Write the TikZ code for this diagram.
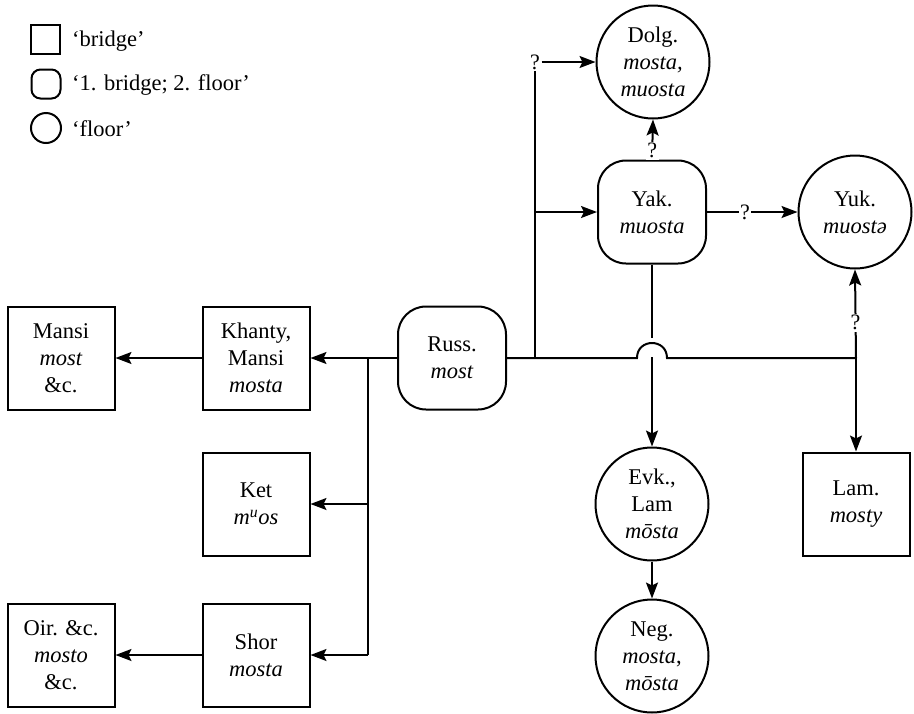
\documentclass[tikz,border=0pt]{standalone}
\usepackage{fontspec}
\setmainfont{Liberation Serif}
\usetikzlibrary{arrows.meta}
\begin{document}
\begin{tikzpicture}[x=1pt,y=-1pt,
  every node/.style={font=\fontsize{22.5}{27}\selectfont, align=center, inner sep=0pt},
  box/.style={draw, line width=2pt, minimum width=107pt, minimum height=103pt},
  rbox/.style={draw, line width=2pt, rounded corners=28pt, minimum width=108pt, minimum height=103pt},
  circ/.style={draw, circle, line width=2pt, minimum size=113pt},
  ln/.style={line width=2pt},
  arr/.style={ln, -{Stealth[length=16pt,width=12pt,inset=3pt]}},
  q/.style={fill=white, inner sep=1.5pt, font=\fontsize{22}{24}\selectfont},
  leg/.style={draw, line width=2pt, minimum size=29pt},
  legtext/.style={anchor=west},
]
\useasboundingbox (0,0) rectangle (914,713);

% legend
\node[leg] (l1) at (45,39) {};
\node[leg, rounded corners=9pt] (l2) at (46,84) {};
\node[leg, circle, minimum size=30pt] (l3) at (46,128) {};
\node[legtext] (t1) at (72,41) {‘bridge’};
\node[legtext] (t2) at (72,85) {‘1. bridge; 2. floor’};
\node[legtext] (t3) at (72,129) {‘floor’};

% nodes
\node[box] (mansi) at (61,358) {Mansi\\\textit{most}\hspace{12pt}\\\&c.};
\node[box] (khanty) at (256,358) {Khanty,\\Mansi\\\textit{mosta}};
\node[box] (ket) at (256,504) {Ket\\\textit{m\textsuperscript{u}os}};
\node[box] (shor) at (256,655) {Shor\\\textit{mosta}};
\node[box] (oir) at (61,655) {Oir. \&c.\\\textit{mosto}\\\&c.};
\node[rbox] (russ) at (452,358) {Russ.\\\textit{most}};
\node[rbox] (yak) at (652,212) {Yak.\\\textit{muosta}};
\node[circ] (dolg) at (653,62) {Dolg.\\\textit{mosta,}\\\textit{muosta}};
\node[circ] (yuk) at (855,212) {Yuk.\\\textit{muostə}};
\node[box] (lam) at (856,504) {Lam.\\\textit{mosty}};
\node[circ] (evk) at (652,504) {Evk.,\\Lam\\\textit{mōsta}};
\node[circ] (neg) at (652,656) {Neg.\\\textit{mosta},\\\textit{mōsta}};

% coordinates
\coordinate (jR) at (535,358);
\coordinate (jRR) at (856,358);
\coordinate (jL) at (368,358);
\coordinate (bA) at (637,358);
\coordinate (bB) at (667,358);
\coordinate (b1) at (652,338);
\coordinate (b2) at (652,357);
\node[q] (q1) at (535,62) {?};

% right part
\draw[ln] (jR) -- (q1.south);
\draw[arr] (q1.east) -- (dolg.west);
\draw[arr] (jR |- yak.west) -- (yak.west);
\draw[arr] (yak.north) -- node[q, pos=0.22] {?} (dolg.south);
\draw[arr] (yak.east) -- node[q, pos=0.42] {?} (yuk.west);
\draw[ln] (russ.east) -- (bA) .. controls (637,338) and (667,338) .. (bB) -- (jRR);
\draw[ln] (yak.south) -- (b1);
\draw[arr] (b2) -- (evk.north);
\draw[arr] (evk.south) -- (neg.north);
\draw[arr] (jRR) -- (lam.north);
\draw[arr] (jRR) -- node[q, pos=0.40] {?} (yuk.south);

% left part
\draw[arr] (russ.west) -- (khanty.east);
\draw[ln] (jL) -- (jL |- shor.east);
\draw[arr] (jL |- ket.east) -- (ket.east);
\draw[arr] (jL |- shor.east) -- (shor.east);
\draw[arr] (khanty.west) -- (mansi.east);
\draw[arr] (shor.west) -- (oir.east);
\end{tikzpicture}
\end{document}
